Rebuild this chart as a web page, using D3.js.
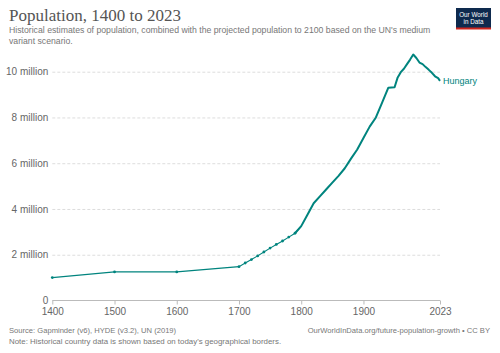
<!DOCTYPE html>
<html>
<head>
<meta charset="utf-8">
<script src="https://cdn.jsdelivr.net/npm/d3@7"></script>
<style>
  body { margin: 0; background: #fff; }
  svg text { font-family: "Liberation Sans", Arial, sans-serif; }
</style>
</head>
<body>
<div id="chart"></div>
<script>
// Hungary population (millions)
var years = [1400, 1500, 1600, 1700, 1710, 1720, 1730, 1740, 1750, 1760, 1770, 1780, 1790,
    1800, 1810, 1820, 1830, 1840, 1850, 1860, 1870, 1880, 1890, 1900, 1910, 1920, 1930, 1940,
    1950, 1955, 1960, 1965, 1970, 1975, 1980, 1985, 1990, 1995, 2000, 2005, 2010, 2015, 2020, 2023];
var population = [1.0, 1.25, 1.25, 1.48, 1.64, 1.79, 1.95, 2.12, 2.29, 2.45, 2.6, 2.77, 2.94,
    3.25, 3.75, 4.25, 4.55, 4.85, 5.15, 5.45, 5.78, 6.2, 6.6, 7.1, 7.6, 8.0, 8.65, 9.3,
    9.32, 9.75, 9.98, 10.13, 10.33, 10.53, 10.75, 10.6, 10.4, 10.33, 10.2, 10.08, 9.95, 9.8, 9.72, 9.6];
var xTicks = [1400, 1500, 1600, 1700, 1800, 1900, 2023];
var yTicks = [0, 2, 4, 6, 8, 10];

var width = 500, height = 353;
var teal = "#00847e";

var data = years.map(function(y, i){ return {year: y, value: population[i]}; });

var svg = d3.select("#chart")
    .append("svg")
    .attr("width", width)
    .attr("height", height);

var x = d3.scaleLinear().domain([1400, 2023]).range([52.3, 440]);
var y = d3.scaleLinear().domain([0, 10]).range([300.5, 71.7]);

// title + subtitle
svg.append("text")
    .attr("x", 9).attr("y", 21)
    .style("font-family", "'Liberation Serif', 'DejaVu Serif', serif")
    .style("font-size", "17px")
    .attr("fill", "#555")
    .text("Population, 1400 to 2023");

svg.append("text")
    .attr("x", 9).attr("y", 33)
    .style("font-size", "8.7px")
    .attr("fill", "#777")
    .text("Historical estimates of population, combined with the projected population to 2100 based on the UN's medium");
svg.append("text")
    .attr("x", 9).attr("y", 44)
    .style("font-size", "8.7px")
    .attr("fill", "#777")
    .text("variant scenario.");

// logo
var logo = svg.append("g").attr("transform", "translate(456,8)");
logo.append("rect").attr("width", 35).attr("height", 21).attr("fill", "#0e2a4e");
logo.append("rect").attr("y", 19.5).attr("width", 35).attr("height", 2).attr("fill", "#ce261e");
logo.append("text").attr("x", 17.5).attr("y", 8.5).attr("text-anchor", "middle")
    .style("font-size", "6.3px").attr("fill", "#fff").text("Our World");
logo.append("text").attr("x", 17.5).attr("y", 15.5).attr("text-anchor", "middle")
    .style("font-size", "6.3px").attr("fill", "#fff").text("in Data");

// y grid + labels
var yAxis = d3.axisLeft(y)
    .tickValues(yTicks)
    .tickSize(-(440 - 52.3))
    .tickFormat(function(d){ return d === 0 ? "0" : d + " million"; });

var gy = svg.append("g")
    .attr("transform", "translate(52.3,0)")
    .call(yAxis);
gy.select(".domain").remove();
gy.selectAll(".tick line")
    .attr("stroke", "#ddd")
    .attr("stroke-dasharray", "3,2")
    .filter(function(d){ return d === 0; }).remove();
gy.selectAll(".tick text")
    .attr("x", -4)
    .style("font-size", "10px")
    .style("font-family", "'Liberation Sans', Arial, sans-serif")
    .attr("fill", "#666");

// x axis
var xAxis = d3.axisBottom(x)
    .tickValues(xTicks)
    .tickSize(4)
    .tickFormat(d3.format("d"));

var gx = svg.append("g")
    .attr("transform", "translate(0,300.5)")
    .call(xAxis);
gx.select(".domain").attr("stroke", "#bbb").attr("d", "M52.3,0H440");
gx.selectAll(".tick line").attr("stroke", "#bbb");
gx.selectAll(".tick text")
    .attr("y", 7)
    .style("font-size", "10px")
    .style("font-family", "'Liberation Sans', Arial, sans-serif")
    .attr("fill", "#666");

// line
var line = d3.line()
    .x(function(d){ return x(d.year); })
    .y(function(d){ return y(d.value); });

svg.append("path")
    .datum(data.filter(function(d){ return d.year <= 1800; }))
    .attr("fill", "none")
    .attr("stroke", teal)
    .attr("stroke-width", 1.1)
    .attr("d", line);

svg.append("path")
    .datum(data.filter(function(d){ return d.year >= 1790; }))
    .attr("fill", "none")
    .attr("stroke", teal)
    .attr("stroke-width", 2)
    .attr("stroke-linejoin", "round")
    .attr("d", line);

svg.selectAll(".dot")
    .data(data.filter(function(d){ return d.year < 1800; }))
    .enter()
    .append("circle")
    .attr("class", "dot")
    .attr("cx", function(d){ return x(d.year); })
    .attr("cy", function(d){ return y(d.value); })
    .attr("r", 1.4)
    .attr("fill", teal);

var last = data[data.length - 1];
svg.append("text")
    .attr("x", x(last.year) + 3)
    .attr("y", y(last.value) + 3.5)
    .style("font-size", "9px")
    .attr("fill", teal)
    .text("Hungary");

// footer
svg.append("text").attr("x", 9).attr("y", 333)
    .style("font-size", "7.6px").attr("fill", "#777")
    .text("Source: Gapminder (v6), HYDE (v3.2), UN (2019)");
svg.append("text").attr("x", 9).attr("y", 343.5)
    .style("font-size", "7.9px").attr("fill", "#777")
    .text("Note: Historical country data is shown based on today's geographical borders.");
svg.append("text").attr("x", 490).attr("y", 333)
    .attr("text-anchor", "end")
    .style("font-size", "7.6px").attr("fill", "#777")
    .text("OurWorldInData.org/future-population-growth • CC BY");
</script>
</body>
</html>
